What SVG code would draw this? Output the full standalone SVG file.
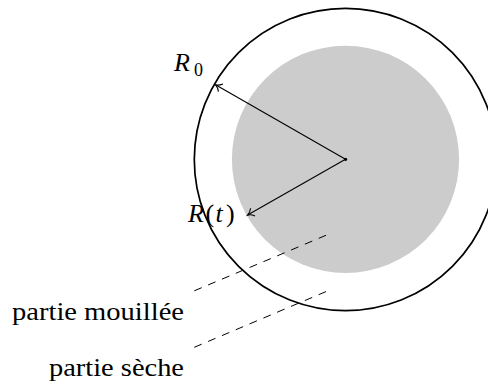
<svg xmlns="http://www.w3.org/2000/svg" width="488" height="385" viewBox="0 0 488 385">
<defs>
<style>
.lbl{font-size:26px;fill:#000}
.it{font-style:italic}
.arr{stroke:#000;stroke-width:1.1;fill:none;marker-end:url(#to)}
.dash{stroke:#000;stroke-width:1;stroke-dasharray:8 7;fill:none}
</style>
<marker id="to" markerUnits="userSpaceOnUse" viewBox="-8 -6 10 12" refX="0" refY="0" markerWidth="10" markerHeight="12" orient="auto" overflow="visible">
<path d="M -6,-4.5 C -4,-1.8 -1.5,-0.4 0,0 C -1.5,0.4 -4,1.8 -6,4.5" stroke="#000" stroke-width="1.1" fill="none"/>
</marker>
</defs>
<rect width="488" height="385" fill="#fff"/>
<g id="outer-circle">
<circle cx="345.5" cy="159.5" r="151.2" fill="none" stroke="#000" stroke-width="1.7"/>
</g>
<g id="wet-core">
<circle cx="345.5" cy="159.3" r="113.6" fill="#cccccc"/>
</g>
<g id="connectors">
<line class="arr" x1="345.5" y1="159.3" x2="215.5" y2="84.8"/>
<line class="arr" x1="345.5" y1="159.3" x2="247.6" y2="215.1"/>
<line class="dash" x1="194.3" y1="290.8" x2="326.7" y2="235"/>
<line class="dash" x1="194.3" y1="347.3" x2="326.7" y2="291.3"/>
</g>
<g id="center">
<circle cx="345.6" cy="159.3" r="1.6" fill="#000"/>
</g>
<g id="label-R0">
<text class="lbl" font-family="Liberation Serif, DejaVu Serif, serif" x="174" y="71"><tspan class="it">R</tspan><tspan x="194" y="75.5" font-size="18">0</tspan></text>
</g>
<g id="label-Rt">
<text class="lbl" font-family="Liberation Serif, DejaVu Serif, serif" x="188" y="222"><tspan class="it">R</tspan><tspan x="205.5">(</tspan><tspan class="it" x="215.5">t</tspan><tspan x="226">)</tspan></text>
</g>
<g id="label-mouillee">
<text class="lbl" font-family="Liberation Serif, DejaVu Serif, serif" x="184" y="320" text-anchor="end" textLength="172" lengthAdjust="spacingAndGlyphs">partie mouillée</text>
</g>
<g id="label-seche">
<text class="lbl" font-family="Liberation Serif, DejaVu Serif, serif" x="184" y="375.5" text-anchor="end" textLength="135" lengthAdjust="spacingAndGlyphs">partie sèche</text>
</g>
</svg>
